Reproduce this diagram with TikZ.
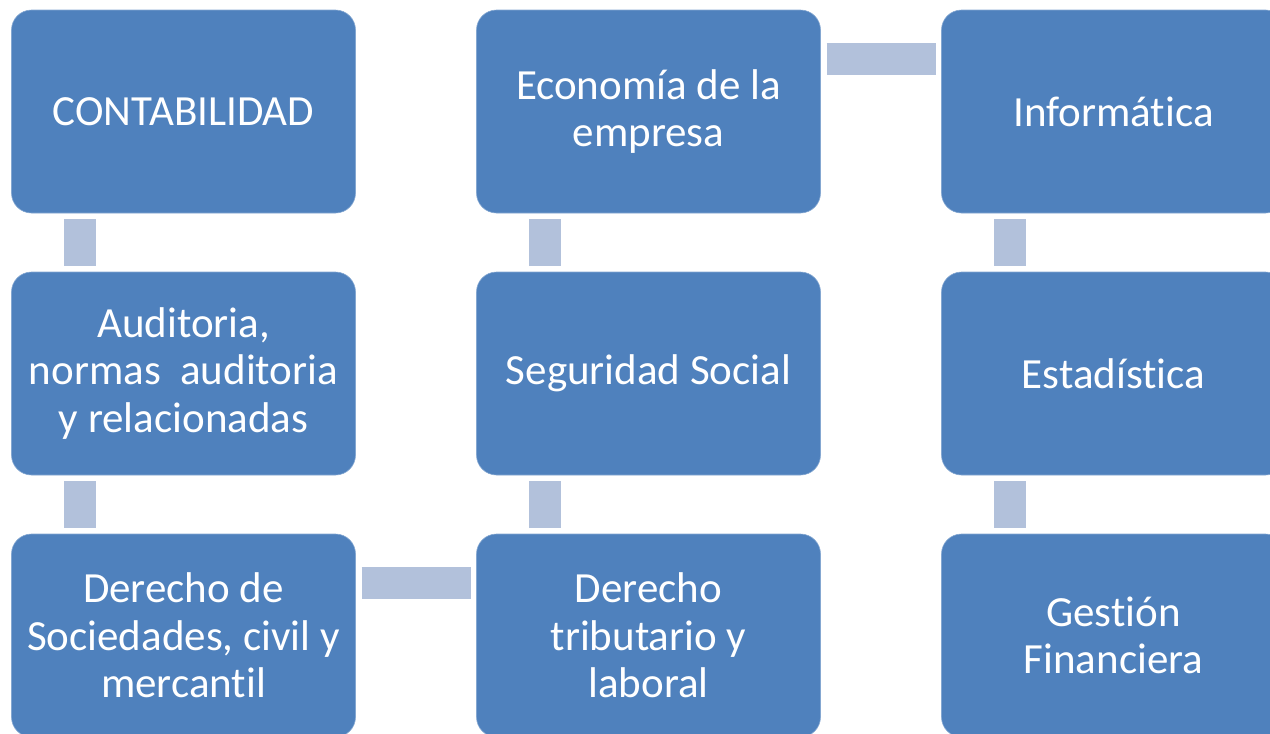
\documentclass[tikz,border=0pt]{standalone}
\usepackage{fontspec}
\setmainfont[Ligatures=NoCommon]{Carlito}
\usetikzlibrary{positioning}
\definecolor{boxblue}{HTML}{4F81BD}
\definecolor{linkblue}{HTML}{B2C1DB}
\tikzset{
  area/.style={rectangle, rounded corners=20pt, fill=boxblue, draw=boxblue!70!white, line width=0.6pt,
    minimum width=344pt, minimum height=203pt, inner sep=0pt, outer sep=0pt,
    text=white, align=center, font=\fontsize{43}{47.5}\selectfont},
  link/.style={draw=linkblue, line width=32pt, shorten >=6pt, shorten <=6pt}
}
\begin{document}
\begin{tikzpicture}[x=1pt, y=-1pt]
  \useasboundingbox (0,0) rectangle (1270,734);
  \clip (0,0) rectangle (1270,734);

  \node[area] (cont) at (183.5,111.5) {CONTABILIDAD} ;
  \node[area, below=59pt of cont] (audi) {Auditoria,\\normas\ \ auditoria\\y relacionadas} ;
  \node[area, below=59pt of audi] (soci) {Derecho de\\Sociedades, civil y\\mercantil} ;
  \node[area, right=121pt of cont] (econ) {Econom\'ia de la\\empresa} ;
  \node[area, below=59pt of econ] (segu) {Seguridad Social} ;
  \node[area, below=59pt of segu] (trib) {Derecho\\tributario y\\laboral} ;
  \node[area, right=121pt of econ] (info) {Inform\'atica} ;
  \node[area, below=59pt of info] (esta) {Estad\'istica} ;
  \node[area, below=59pt of esta] (gest) {Gesti\'on\\Financiera} ;

  \draw[link] ([xshift=68pt]cont.south west) -- ([xshift=68pt]audi.north west);
  \draw[link] ([xshift=68pt]audi.south west) -- ([xshift=68pt]soci.north west);
  \draw[link] ([yshift=-49pt]soci.north east) -- ([yshift=-49pt]trib.north west);
  \draw[link] ([xshift=68pt]trib.north west) -- ([xshift=68pt]segu.south west);
  \draw[link] ([xshift=68pt]segu.north west) -- ([xshift=68pt]econ.south west);
  \draw[link] ([yshift=-49pt]econ.north east) -- ([yshift=-49pt]info.north west);
  \draw[link] ([xshift=68pt]info.south west) -- ([xshift=68pt]esta.north west);
  \draw[link] ([xshift=68pt]esta.south west) -- ([xshift=68pt]gest.north west);
\end{tikzpicture}
\end{document}
